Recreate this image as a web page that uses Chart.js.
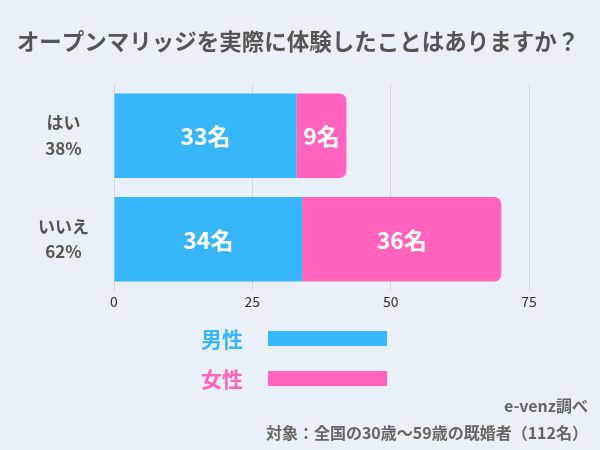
<!DOCTYPE html>
<html>
<head>
<meta charset="utf-8">
<script src="https://cdn.jsdelivr.net/npm/chart.js@4"></script>
<style>
  html, body { margin: 0; padding: 0; background: #e9f0f7; }
  #wrap { width: 600px; height: 450px; position: relative; }
</style>
</head>
<body>
<div id="wrap"><canvas id="grafica"></canvas></div>
<script>
const categorias = [['はい', '38%'], ['いいえ', '62%']];
const hombres = [33, 34];
const mujeres = [9, 36];
const ticksX = [0, 25, 50, 75];
const titulo = 'オープンマリッジを実際に体験したことはありますか？';
const nota = ['e-venz調べ', '対象：全国の30歳〜59歳の既婚者（112名）'];

const FUENTE = '"Noto Sans CJK JP", "Noto Sans", sans-serif';
const AZUL = '#38b6fc';
const ROSA = '#ff63bd';

// titulo, leyenda y nota dibujados a mano
const textos = {
    id: 'textos',
    afterDraw(chart) {
        const ctx = chart.ctx;
        ctx.save();
        ctx.textBaseline = 'middle';
        ctx.fillStyle = '#555';
        ctx.font = 'bold 22.5px ' + FUENTE;
        ctx.textAlign = 'center';
        ctx.fillText(titulo, 298, 41);

        // leyenda
        chart.data.datasets.forEach((ds, i) => {
            const y = 339 + i * 40;
            ctx.fillStyle = ds.backgroundColor;
            ctx.font = 'bold 21px ' + FUENTE;
            ctx.textAlign = 'right';
            ctx.fillText(ds.label, 243, y);
            ctx.fillRect(268, y - 8, 119, 15);
        });

        ctx.fillStyle = '#666';
        ctx.font = 'bold 16px ' + FUENTE;
        ctx.textAlign = 'right';
        ctx.fillText(nota[0], 588, 406);
        ctx.fillText(nota[1], 588, 433);
        ctx.restore();
    }
};

// etiquetas dentro de las barras
const etiquetas = {
    id: 'etiquetas',
    afterDatasetsDraw(chart) {
        const ctx = chart.ctx;
        ctx.save();
        ctx.fillStyle = '#fff';
        ctx.font = 'bold 23px ' + FUENTE;
        ctx.textAlign = 'center';
        ctx.textBaseline = 'middle';
        chart.data.datasets.forEach((ds, i) => {
            chart.getDatasetMeta(i).data.forEach((bar, j) => {
                const cx = (bar.x + bar.base) / 2;
                ctx.fillText(ds.data[j] + '名', cx, bar.y + 1);
            });
        });
        ctx.restore();
    }
};

const grafica = document.getElementById('grafica');
const myChart = new Chart(grafica, {
    type: 'bar',
    data: {
        labels: categorias,
        datasets: [{
            label: '男性',
            data: hombres,
            backgroundColor: AZUL,
            borderWidth: 0,
            borderRadius: 0,
            barPercentage: 0.9,
            categoryPercentage: 0.907
        }, {
            label: '女性',
            data: mujeres,
            backgroundColor: ROSA,
            borderWidth: 0,
            borderSkipped: false,
            borderRadius: { topLeft: 0, bottomLeft: 0, topRight: 7, bottomRight: 7 },
            barPercentage: 0.9,
            categoryPercentage: 0.907
        }]
    },
    options: {
        indexAxis: 'y',
        responsive: true,
        maintainAspectRatio: false,
        animation: false,
        layout: { padding: { left: 0, right: 71, top: 84, bottom: 139 } },
        plugins: {
            legend: { display: false },
            tooltip: { enabled: false }
        },
        scales: {
            x: {
                stacked: true,
                min: 0,
                max: 75,
                afterBuildTicks: (scale) => { scale.ticks = ticksX.map(v => ({ value: v })); },
                afterFit: (scale) => { scale.height = 20; },
                grid: { color: '#cfd5db', lineWidth: 1, drawTicks: false },
                border: { display: false },
                ticks: {
                    padding: 2,
                    color: '#333',
                    font: { family: FUENTE, size: 14 }
                }
            },
            y: {
                stacked: true,
                afterFit: (scale) => { scale.width = 114; },
                grid: { display: false, drawTicks: false },
                border: { display: false },
                ticks: {
                    crossAlign: 'center',
                    padding: 25,
                    color: '#555',
                    font: { family: FUENTE, size: 17, weight: 'bold', lineHeight: 1.5 }
                }
            }
        }
    },
    plugins: [textos, etiquetas]
});
</script>
</body>
</html>
